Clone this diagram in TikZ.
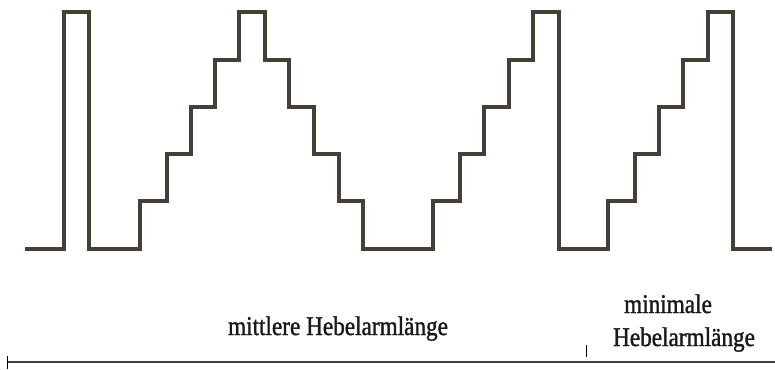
\documentclass[tikz,border=0pt]{standalone}
\usepackage{fontspec}
\setmainfont{Liberation Serif}
\newfontfamily\lblfont[FakeStretch=0.86,FakeBold=1.3]{Liberation Serif}
\definecolor{wave}{HTML}{463F38}
\begin{document}
\begin{tikzpicture}[x=1pt,y=-1pt,
  waveline/.style={draw=wave,line width=4pt,line join=miter,line cap=butt},
  axisline/.style={draw=black!75,line width=1.2pt},
  ticktick/.style={draw=black,line width=0.8pt},
  lbl/.style={font=\lblfont\fontsize{27}{30}\selectfont,text=black!90,anchor=base,inner sep=0pt}]
\useasboundingbox (0,0) rectangle (775,369);
\draw[waveline] (25,249) -- (64,249) -- (64,12) -- (89,12) -- (89,249) -- (140,249)
  -- (140,201) -- (167,201) -- (167,154) -- (191,154) -- (191,107) -- (215,107)
  -- (215,60) -- (239,60) -- (239,12) -- (265,12) -- (265,60) -- (289,60)
  -- (289,107) -- (314,107) -- (314,154) -- (339,154) -- (339,201) -- (363,201)
  -- (363,249) -- (433,249) -- (433,201) -- (460,201) -- (460,154) -- (484,154)
  -- (484,107) -- (509,107) -- (509,60) -- (533,60) -- (533,12) -- (559,12)
  -- (559,249) -- (608,249) -- (608,201) -- (635,201) -- (635,154) -- (659,154)
  -- (659,107) -- (683,107) -- (683,60) -- (708,60) -- (708,12) -- (733,12)
  -- (733,249) -- (772,249);
\coordinate (axL) at (7,362);
\coordinate (axR) at (775,362);
\coordinate (tL1) at (7,356);
\coordinate (tL2) at (7,369);
\coordinate (tM1) at (586,345);
\coordinate (tM2) at (586,357);
\draw[axisline] (axL) -- (axR);
\draw[ticktick] (tL1) -- (tL2);
\draw[ticktick] (tM1) -- (tM2);
\node[lbl] (mid) at (338,335) {mittlere Hebelarmlänge};
\node[lbl] (min1) at (668,313) {minimale};
\node[lbl] (min2) at (684,346) {Hebelarmlänge};
\end{tikzpicture}
\end{document}
